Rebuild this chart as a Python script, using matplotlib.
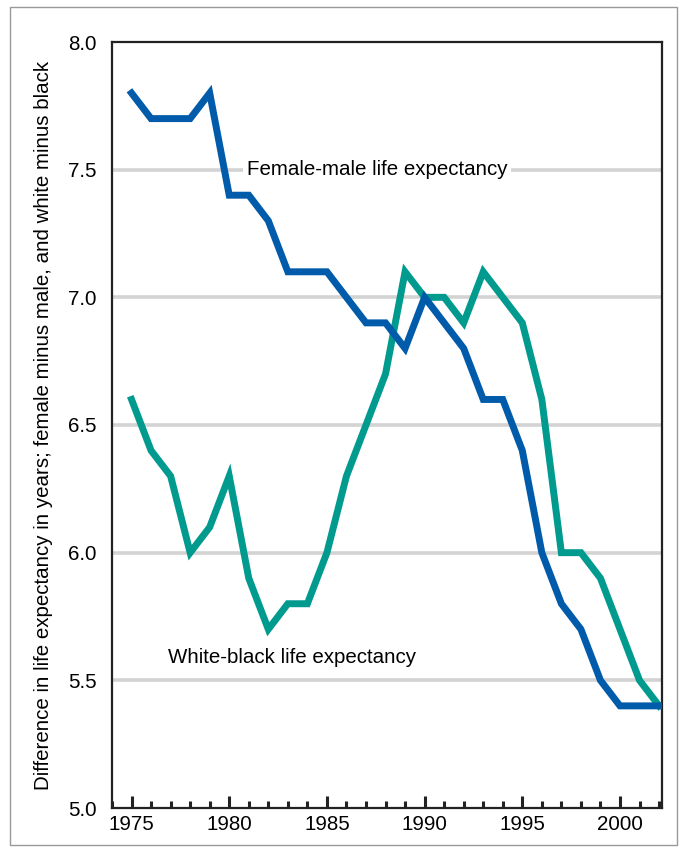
import matplotlib
matplotlib.use("Agg")
import matplotlib.pyplot as plt
from matplotlib.patches import Rectangle
from matplotlib.ticker import MultipleLocator

plt.rcParams["font.family"] = ["Liberation Sans", "DejaVu Sans"]

# data
years = list(range(1975, 2003))
female_male = [7.8, 7.7, 7.7, 7.7, 7.8, 7.4, 7.4, 7.3, 7.1, 7.1, 7.1, 7.0, 6.9, 6.9,
               6.8, 7.0, 6.9, 6.8, 6.6, 6.6, 6.4, 6.0, 5.8, 5.7, 5.5, 5.4, 5.4, 5.4]
white_black = [6.6, 6.4, 6.3, 6.0, 6.1, 6.3, 5.9, 5.7, 5.8, 5.8, 6.0, 6.3, 6.5, 6.7,
               7.1, 7.0, 7.0, 6.9, 7.1, 7.0, 6.9, 6.6, 6.0, 6.0, 5.9, 5.7, 5.5, 5.4]
y_ticks = [5.0, 5.5, 6.0, 6.5, 7.0, 7.5, 8.0]
x_ticks = [1975, 1980, 1985, 1990, 1995, 2000]

blue = "#005BAA"
teal = "#009A8E"
fs = 14.8

fig = plt.figure(figsize=(6.86, 8.52), dpi=100)
# outer frame
fig.patches.append(Rectangle((10 / 686, 7 / 852), 667 / 686, 838 / 852,
                             transform=fig.transFigure, fill=False,
                             edgecolor="#999999", linewidth=1.0))

ax = fig.add_axes([112 / 686, 44 / 852, 550 / 686, 766 / 852])
ax.set_xlim(1974, 2002.15)
ax.set_ylim(5.0, 8.0)

# gridlines
for y in y_ticks[1:-1]:
    ax.axhline(y, color="#D3D3D3", linewidth=2.6, zorder=1)

ax.plot(years, white_black, color=teal, linewidth=5.0, solid_joinstyle="miter", zorder=3)
ax.plot(years, female_male, color=blue, linewidth=5.0, solid_joinstyle="miter", zorder=4)

ax.text(1980.9, 7.5, "Female-male life expectancy", fontsize=fs, va="center", ha="left",
        bbox=dict(facecolor="white", edgecolor="none", pad=3), zorder=2)
ax.text(1976.85, 5.59, "White-black life expectancy", fontsize=fs, va="center", ha="left")

for s in ax.spines.values():
    s.set_linewidth(1.6)
    s.set_color("#222222")

ax.set_yticks(y_ticks)
ax.set_yticklabels(["%.1f" % v for v in y_ticks])
ax.set_xticks(x_ticks)
ax.xaxis.set_minor_locator(MultipleLocator(1))
ax.tick_params(axis="x", which="major", direction="in", length=9, width=2.2, labelsize=fs,
               color="#222222", pad=5)
ax.tick_params(axis="x", which="minor", direction="in", length=5, width=2.2, color="#222222")
ax.tick_params(axis="y", length=0, labelsize=fs, pad=11)

ax.set_ylabel("Difference in life expectancy in years; female minus male, and white minus black",
              fontsize=fs)
ax.yaxis.set_label_coords(-0.107, 0.5)

fig.savefig("out.png", dpi=100)
